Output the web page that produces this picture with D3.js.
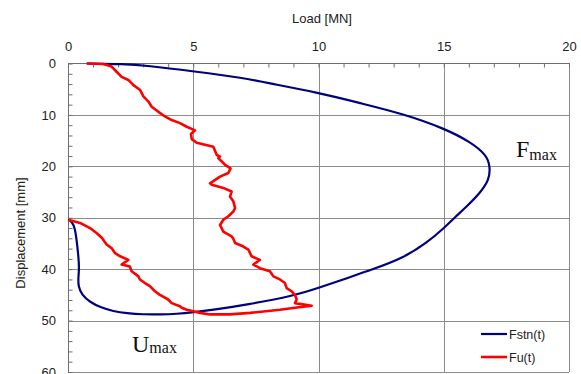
<!DOCTYPE html>
<html>
<head>
<meta charset="utf-8">
<script src="https://cdn.jsdelivr.net/npm/d3@7"></script>
<style>
  html, body { margin: 0; padding: 0; background: #fff; }
  svg { display: block; font-family: "Liberation Sans", Arial, sans-serif; }
</style>
</head>
<body>
<svg id="chart" width="581" height="374"></svg>
<script>
// Load [MN] vs displacement [mm] for the two measured traces
const fstnPoints = [
  [0.75,0],[2.2,0.1],[3.14,0.4],[5.0,1.5],[7.13,2.9],[7.66,3.5],[10.03,5.7],
  [11.66,7.7],[13.39,9.8],[15.01,12.6],[16.05,15.2],[16.71,17.8],[16.85,20.0],
  [16.82,22.6],[16.45,25.2],[15.92,27.8],[15.45,29.9],[15.01,32.0],[14.32,34.9],
  [13.39,37.8],[12.19,40.0],[11.1,41.8],[10.03,43.6],[9.0,45.2],[7.13,46.9],
  [5.8,47.9],[5.0,48.4],[4.34,48.7],[3.67,48.8],[3.01,48.8],[2.34,48.6],
  [1.81,48.2],[1.28,47.4],[0.88,46.4],[0.55,45.0],[0.41,43.3],[0.41,41.7],
  [0.45,39.8],[0.41,37.2],[0.35,34.6],[0.28,32.0],[0.15,30.7],[0.01,30.4]
];

const fuPoints = [
  [0.75,0],[1.41,0.1],[1.74,0.6],[1.94,1.6],[2.14,2.6],[2.41,3.2],[2.61,4.2],
  [2.87,5.1],[3.01,6.4],[3.21,7.4],[3.34,8.4],[3.61,9.4],[3.87,10.3],[4.14,11.0],
  [4.47,11.6],[4.74,12.3],[5.07,13.0],[4.91,13.7],[4.94,14.7],[5.14,15.4],
  [5.8,16.2],[5.94,17.8],[6.07,18.1],[6.0,18.4],[6.27,19.7],[6.49,20.4],
  [6.4,21.3],[6.07,22.0],[5.67,23.3],[5.74,23.6],[6.2,24.2],[6.53,24.9],
  [6.47,25.9],[6.6,26.8],[6.67,28.1],[6.6,28.8],[6.4,29.7],[6.2,30.4],
  [6.07,31.4],[6.2,32.7],[6.53,33.6],[6.6,34.1],[6.67,34.9],[7.0,35.6],
  [7.2,36.2],[7.33,37.5],[7.66,38.2],[7.4,39.1],[7.66,39.8],[8.06,40.4],
  [8.2,41.4],[8.46,42.0],[8.66,42.7],[8.73,43.7],[8.93,44.3],[9.06,45.0],
  [9.13,45.9],[9.06,46.6],[9.73,47.1],[9.06,47.5],[8.46,47.9],[7.27,48.5],
  [6.47,48.8],[5.67,48.8],[5.27,48.5],[5.0,48.2],[4.74,47.9],[4.54,47.5],
  [4.47,47.2],[4.14,46.6],[4.0,45.9],[3.67,45.0],[3.47,44.3],[3.27,43.3],
  [3.07,42.7],[2.87,42.0],[2.81,41.4],[2.54,40.4],[2.47,39.5],[2.14,39.1],
  [2.41,38.2],[2.08,37.5],[1.88,36.9],[1.74,35.9],[1.54,35.2],[1.35,33.9],
  [1.15,33.0],[0.88,32.0],[0.48,31.0],[0.01,30.4]
];

const seriesNames = ["Fstn(t)", "Fu(t)"];
const xTicks = [0, 5, 10, 15, 20];
const yTicks = [0, 10, 20, 30, 40, 50, 60];
const xMinorTicks = d3.range(0, 21, 1);
const yMinorTicks = d3.range(0, 61, 2);

const svg = d3.select("#chart");
const plotLeft = 68, plotRight = 569, plotTop = 63.5, plotBottom = 372;
const sans = "Liberation Sans, Arial, sans-serif";
const serif = "Liberation Serif, Times New Roman, serif";

const x = d3.scaleLinear().domain([0, 20]).range([plotLeft, plotRight]);
const y = d3.scaleLinear().domain([0, 60]).range([plotTop, plotBottom]);

// grid
const grid = svg.append("g").attr("stroke", "#8c8c8c").attr("stroke-width", 1);
grid.selectAll("line.h").data(yTicks.filter(v => v > 0 && v < 60)).join("line")
  .attr("x1", plotLeft).attr("x2", plotRight)
  .attr("y1", d => Math.round(y(d)) + 0.5).attr("y2", d => Math.round(y(d)) + 0.5);
grid.selectAll("line.v").data(xTicks.filter(v => v > 0 && v < 20)).join("line")
  .attr("x1", d => Math.round(x(d)) + 0.5).attr("x2", d => Math.round(x(d)) + 0.5)
  .attr("y1", plotTop).attr("y2", plotBottom);

// frame
svg.append("line").attr("x1", plotRight + 0.5).attr("x2", plotRight + 0.5)
  .attr("y1", plotTop).attr("y2", plotBottom).attr("stroke", "#8c8c8c");
svg.append("line").attr("x1", plotLeft).attr("x2", plotRight)
  .attr("y1", plotBottom + 0.5).attr("y2", plotBottom + 0.5).attr("stroke", "#8c8c8c");
svg.append("line").attr("x1", plotLeft).attr("x2", plotRight + 1)
  .attr("y1", plotTop).attr("y2", plotTop).attr("stroke", "#6e6e6e");
svg.append("line").attr("x1", plotLeft + 0.5).attr("x2", plotLeft + 0.5)
  .attr("y1", plotTop).attr("y2", plotBottom + 1).attr("stroke", "#6e6e6e");

// minor ticks (inside)
const xMinor = svg.append("g").attr("transform", `translate(0,${plotTop})`)
  .call(d3.axisTop(x).tickValues(xMinorTicks).tickSize(-4).tickFormat(""));
xMinor.select(".domain").remove();
xMinor.selectAll("line").attr("stroke", "#6e6e6e");

const yMinor = svg.append("g").attr("transform", `translate(${plotLeft + 0.5},0)`)
  .call(d3.axisLeft(y).tickValues(yMinorTicks).tickSize(-4).tickFormat(""));
yMinor.select(".domain").remove();
yMinor.selectAll("line").attr("stroke", "#6e6e6e");

// tick labels
const xAxis = svg.append("g").attr("transform", `translate(0,${plotTop})`)
  .call(d3.axisTop(x).tickValues(xTicks).tickSize(0).tickPadding(13).tickFormat(d3.format("d")));
xAxis.select(".domain").remove();
xAxis.selectAll("text").attr("fill", "#222")
  .style("font-size", "13px").style("font-family", sans);

const yAxis = svg.append("g").attr("transform", `translate(${plotLeft},0)`)
  .call(d3.axisLeft(y).tickValues(yTicks).tickSize(0).tickPadding(12).tickFormat(d3.format("d")));
yAxis.select(".domain").remove();
yAxis.selectAll("text").attr("fill", "#222")
  .style("font-size", "13px").style("font-family", sans);

// axis titles
svg.append("text").attr("x", 322).attr("y", 23).attr("text-anchor", "middle")
  .style("font-size", "13px").style("font-family", sans).attr("fill", "#222").text("Load [MN]");
svg.append("text").attr("transform", "translate(20.5,233) rotate(-90)")
  .attr("text-anchor", "middle").attr("dy", "0.35em")
  .style("font-size", "13px").style("font-family", sans).attr("fill", "#222").text("Displacement [mm]");

// curves
svg.append("path").datum(fstnPoints)
  .attr("d", d3.line().x(d => x(d[0])).y(d => y(d[1])).curve(d3.curveBasis))
  .attr("fill", "none").attr("stroke", "#000080").attr("stroke-width", 2.2)
  .attr("stroke-linejoin", "round");
svg.append("path").datum(fuPoints)
  .attr("d", d3.line().x(d => x(d[0])).y(d => y(d[1])))
  .attr("fill", "none").attr("stroke", "#ff0000").attr("stroke-width", 2.6)
  .attr("stroke-linejoin", "round");

// annotations
const fmax = svg.append("text").attr("x", 516).attr("y", 157)
  .style("font-family", serif).style("font-size", "24px").attr("fill", "#111");
fmax.append("tspan").text("F");
fmax.append("tspan").style("font-size", "16px").attr("dy", 3).text("max");

const umax = svg.append("text").attr("x", 132).attr("y", 352)
  .style("font-family", serif).style("font-size", "24px").attr("fill", "#111");
umax.append("tspan").text("U");
umax.append("tspan").style("font-size", "16px").attr("dy", 1).text("max");

// legend
const legendColors = ["#000080", "#ff0000"];
const legend = svg.append("g");
seriesNames.forEach((name, i) => {
  const ly = 334 + i * 23;
  legend.append("line").attr("x1", 481).attr("x2", 507).attr("y1", ly).attr("y2", ly)
    .attr("stroke", legendColors[i]).attr("stroke-width", i ? 2.6 : 2.2);
  legend.append("text").attr("x", 509).attr("y", ly).attr("dy", "0.36em")
    .style("font-size", "12.5px").style("font-family", sans).attr("fill", "#222").text(name);
});
</script>
</body>
</html>
